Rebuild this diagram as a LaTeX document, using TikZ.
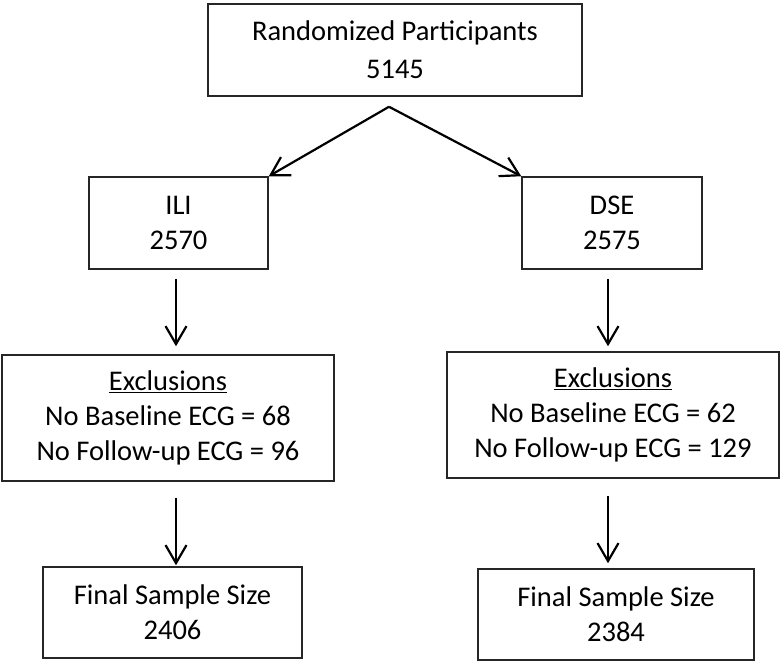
\documentclass[tikz,border=0pt]{standalone}
\usepackage{fontspec}
\setmainfont{Carlito}
\usetikzlibrary{arrows.meta}
\begin{document}
\begin{tikzpicture}[x=1pt,y=-1pt,
  box/.style={draw=black!85, line width=1.5pt, align=center, inner sep=0pt,
    font=\fontsize{28.5}{35}\selectfont},
  arr/.style={line width=2.2pt, -{Straight Barb[length=18pt,width=21pt,line width=2.2pt]}}]
\useasboundingbox (0,0) rectangle (784,664);
\node[box, minimum width=374pt, minimum height=92pt, font=\fontsize{28.5}{38}\selectfont] (top) at (395,50) {Randomized Participants\\5145};
\node[box, minimum width=179pt, minimum height=92pt] (ili) at (178.5,223) {ILI\\2570};
\node[box, minimum width=180pt, minimum height=92pt] (dse) at (612,223) {DSE\\2575};
\node[box, minimum width=332pt, minimum height=126pt] (exili) at (168,418) {\underline{Exclusions}\\No Baseline ECG = 68\\No Follow-up ECG = 96};
\node[box, minimum width=332pt, minimum height=126pt] (exdse) at (613,415) {\underline{Exclusions}\\No Baseline ECG = 62\\No Follow-up ECG = 129};
\node[box, minimum width=259pt, minimum height=91pt] (finili) at (172.5,612.5) {Final Sample Size\\2406};
\node[box, minimum width=276pt, minimum height=91pt] (findse) at (616,614.5) {Final Sample Size\\2384};
\coordinate (apex) at ([xshift=-6pt,yshift=-10pt]top.south);
\coordinate (xl) at (176,0);
\coordinate (xr) at (608,0);
\draw[arr] (apex) -- (ili.north east);
\draw[arr] (apex) -- (dse.north west);
\draw[arr, shorten <=9pt, shorten >=8pt] (ili.south -| xl) -- (exili.north -| xl);
\draw[arr, shorten <=16pt, shorten >=1pt] (exili.south -| xl) -- (finili.north -| xl);
\draw[arr, shorten <=9pt, shorten >=5pt] (dse.south -| xr) -- (exdse.north -| xr);
\draw[arr, shorten <=17pt, shorten >=5pt] (exdse.south -| xr) -- (findse.north -| xr);
\end{tikzpicture}
\end{document}
